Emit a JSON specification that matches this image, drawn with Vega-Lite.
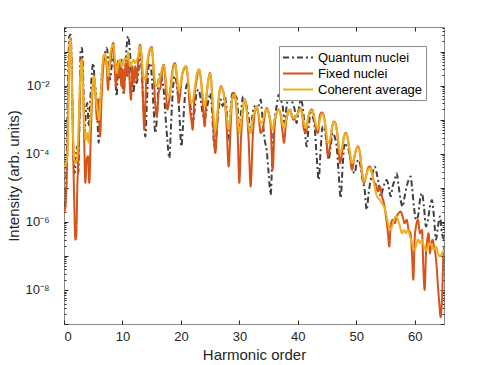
{
"$schema":"https://vega.github.io/schema/vega-lite/v6.json",
"autosize":{"type":"none"},
"width":380,"height":297,
"padding":{"left":64,"top":27,"right":47,"bottom":41},
"background":"white",
"config":{"font":"Liberation Sans","view":{"stroke":"#8a8a8a","strokeWidth":1},"axis":{"grid":false,"labelColor":"#262626","titleColor":"#262626","tickColor":"#262626","labelFont":"Liberation Sans","titleFont":"Liberation Sans","labelFontSize":13,"titleFontSize":15,"titleFontWeight":"normal"}},
"data":{"values":[
{"s":"Q","h":0,"v":2.8e-6},{"s":"Q","h":0.29,"v":4.4e-6},{"s":"Q","h":0.63,"v":0.0039},{"s":"Q","h":0.91,"v":0.28},{"s":"Q","h":1.14,"v":0.32},{"s":"Q","h":1.37,"v":0.012},{"s":"Q","h":1.6,"v":1.3e-4},{"s":"Q","h":1.82,"v":2.7e-5},{"s":"Q","h":2.05,"v":8.4e-5},{"s":"Q","h":2.22,"v":1.64e-4},{"s":"Q","h":2.45,"v":2.7e-5},{"s":"Q","h":2.62,"v":6.4e-4},{"s":"Q","h":2.85,"v":0.115},{"s":"Q","h":3.08,"v":0.128},{"s":"Q","h":3.31,"v":0.012},{"s":"Q","h":3.53,"v":4.1e-4},{"s":"Q","h":3.76,"v":0.002},{"s":"Q","h":3.99,"v":0.0031},{"s":"Q","h":4.22,"v":6.4e-4},{"s":"Q","h":4.45,"v":0.0025},{"s":"Q","h":4.73,"v":0.019},{"s":"Q","h":5.02,"v":0.046},{"s":"Q","h":5.25,"v":0.012},{"s":"Q","h":5.47,"v":0.0061},{"s":"Q","h":5.7,"v":0.00125},{"s":"Q","h":5.93,"v":2.1e-4},{"s":"Q","h":6.16,"v":0.002},{"s":"Q","h":6.44,"v":0.019},{"s":"Q","h":6.73,"v":0.058},{"s":"Q","h":7.01,"v":0.091},{"s":"Q","h":7.3,"v":0.128},{"s":"Q","h":7.58,"v":0.058},{"s":"Q","h":7.87,"v":0.015},{"s":"Q","h":8.15,"v":0.037},{"s":"Q","h":8.44,"v":0.073},{"s":"Q","h":8.72,"v":0.0236},{"s":"Q","h":9.01,"v":0.0049},{"s":"Q","h":9.29,"v":0.058},{"s":"Q","h":9.58,"v":0.015},{"s":"Q","h":9.86,"v":0.058},{"s":"Q","h":10.15,"v":0.0061},{"s":"Q","h":10.43,"v":0.019},{"s":"Q","h":10.72,"v":0.144},{"s":"Q","h":11.0,"v":0.28},{"s":"Q","h":11.29,"v":0.091},{"s":"Q","h":11.57,"v":0.019},{"s":"Q","h":11.86,"v":0.0061},{"s":"Q","h":12.14,"v":0.015},{"s":"Q","h":12.43,"v":0.012},{"s":"Q","h":12.71,"v":0.0236},{"s":"Q","h":13.0,"v":0.091},{"s":"Q","h":13.28,"v":0.03},{"s":"Q","h":13.57,"v":0.0025},{"s":"Q","h":13.91,"v":3.2e-4},{"s":"Q","h":14.2,"v":0.0039},{"s":"Q","h":14.48,"v":0.037},{"s":"Q","h":14.77,"v":0.046},{"s":"Q","h":15.05,"v":0.015},{"s":"Q","h":15.34,"v":0.002},{"s":"Q","h":15.62,"v":4.1e-4},{"s":"Q","h":15.91,"v":0.00125},{"s":"Q","h":16.19,"v":0.015},{"s":"Q","h":16.48,"v":0.0236},{"s":"Q","h":16.76,"v":0.015},{"s":"Q","h":17.05,"v":0.0076},{"s":"Q","h":17.33,"v":0.00157},{"s":"Q","h":17.67,"v":2.6e-4},{"s":"Q","h":18.02,"v":7.5e-5},{"s":"Q","h":18.3,"v":6.4e-4},{"s":"Q","h":18.59,"v":0.0061},{"s":"Q","h":18.87,"v":0.019},{"s":"Q","h":19.16,"v":0.015},{"s":"Q","h":19.44,"v":0.0061},{"s":"Q","h":19.73,"v":0.00157},{"s":"Q","h":20.07,"v":1.64e-4},{"s":"Q","h":20.35,"v":6.4e-4},{"s":"Q","h":20.64,"v":0.0039},{"s":"Q","h":20.92,"v":0.0096},{"s":"Q","h":21.21,"v":0.012},{"s":"Q","h":21.49,"v":0.0039},{"s":"Q","h":21.78,"v":0.00157},{"s":"Q","h":22.06,"v":8e-4},{"s":"Q","h":22.35,"v":0.002},{"s":"Q","h":22.69,"v":0.0061},{"s":"Q","h":23.03,"v":0.0076},{"s":"Q","h":23.38,"v":0.0039},{"s":"Q","h":23.72,"v":0.00157},{"s":"Q","h":24.06,"v":0.001},{"s":"Q","h":24.4,"v":0.002},{"s":"Q","h":24.74,"v":0.0039},{"s":"Q","h":25.03,"v":0.0061},{"s":"Q","h":25.31,"v":0.002},{"s":"Q","h":25.6,"v":2.6e-4},{"s":"Q","h":25.88,"v":1.3e-4},{"s":"Q","h":26.17,"v":6.4e-4},{"s":"Q","h":26.51,"v":0.0025},{"s":"Q","h":26.8,"v":0.0039},{"s":"Q","h":27.14,"v":0.0025},{"s":"Q","h":27.48,"v":0.0049},{"s":"Q","h":27.82,"v":0.002},{"s":"Q","h":28.16,"v":2.6e-4},{"s":"Q","h":28.51,"v":0.002},{"s":"Q","h":28.79,"v":0.0061},{"s":"Q","h":29.08,"v":0.0039},{"s":"Q","h":29.42,"v":0.0049},{"s":"Q","h":29.7,"v":0.0025},{"s":"Q","h":29.99,"v":4.1e-4},{"s":"Q","h":30.33,"v":0.002},{"s":"Q","h":30.62,"v":0.0049},{"s":"Q","h":30.9,"v":0.0039},{"s":"Q","h":31.24,"v":0.0025},{"s":"Q","h":31.58,"v":0.00125},{"s":"Q","h":31.93,"v":4.1e-4},{"s":"Q","h":32.27,"v":0.00157},{"s":"Q","h":32.61,"v":0.0025},{"s":"Q","h":32.95,"v":0.002},{"s":"Q","h":33.3,"v":0.0025},{"s":"Q","h":33.64,"v":0.0039},{"s":"Q","h":33.98,"v":0.001},{"s":"Q","h":34.32,"v":2.6e-4},{"s":"Q","h":34.66,"v":1.3e-4},{"s":"Q","h":35.01,"v":2.7e-5},{"s":"Q","h":35.35,"v":6.2e-6},{"s":"Q","h":35.69,"v":1.64e-4},{"s":"Q","h":36.03,"v":0.001},{"s":"Q","h":36.37,"v":0.0025},{"s":"Q","h":36.72,"v":0.0054},{"s":"Q","h":37.06,"v":0.0039},{"s":"Q","h":37.4,"v":0.0025},{"s":"Q","h":37.74,"v":8e-4},{"s":"Q","h":38.08,"v":0.0025},{"s":"Q","h":38.43,"v":0.0049},{"s":"Q","h":38.77,"v":0.0039},{"s":"Q","h":39.11,"v":0.0031},{"s":"Q","h":39.45,"v":0.002},{"s":"Q","h":39.79,"v":8e-4},{"s":"Q","h":40.14,"v":0.002},{"s":"Q","h":40.48,"v":0.0039},{"s":"Q","h":40.82,"v":0.0025},{"s":"Q","h":41.16,"v":6.4e-4},{"s":"Q","h":41.5,"v":1.64e-4},{"s":"Q","h":41.85,"v":6.4e-4},{"s":"Q","h":42.19,"v":0.00157},{"s":"Q","h":42.53,"v":0.00125},{"s":"Q","h":42.87,"v":6.4e-4},{"s":"Q","h":43.22,"v":8.4e-5},{"s":"Q","h":43.56,"v":1.7e-5},{"s":"Q","h":43.9,"v":1.3e-4},{"s":"Q","h":44.24,"v":6.4e-4},{"s":"Q","h":44.58,"v":5.1e-4},{"s":"Q","h":44.93,"v":2.1e-4},{"s":"Q","h":45.27,"v":6.7e-5},{"s":"Q","h":45.61,"v":1.64e-4},{"s":"Q","h":45.95,"v":4.1e-4},{"s":"Q","h":46.29,"v":3.2e-4},{"s":"Q","h":46.64,"v":1.64e-4},{"s":"Q","h":46.98,"v":2.7e-5},{"s":"Q","h":47.32,"v":5e-6},{"s":"Q","h":47.66,"v":4.2e-5},{"s":"Q","h":48.0,"v":2.1e-4},{"s":"Q","h":48.35,"v":1.64e-4},{"s":"Q","h":48.69,"v":1.3e-4},{"s":"Q","h":49.03,"v":6.7e-5},{"s":"Q","h":49.37,"v":3.4e-5},{"s":"Q","h":49.72,"v":2.7e-5},{"s":"Q","h":50.06,"v":5.3e-5},{"s":"Q","h":50.4,"v":6.7e-5},{"s":"Q","h":50.74,"v":4.2e-5},{"s":"Q","h":51.08,"v":1.7e-5},{"s":"Q","h":51.43,"v":8.7e-6},{"s":"Q","h":51.77,"v":2.25e-6},{"s":"Q","h":52.11,"v":7e-6},{"s":"Q","h":52.45,"v":1.7e-5},{"s":"Q","h":52.79,"v":2.7e-5},{"s":"Q","h":53.14,"v":4.2e-5},{"s":"Q","h":53.48,"v":2.7e-5},{"s":"Q","h":53.82,"v":1.37e-5},{"s":"Q","h":54.16,"v":5.6e-6},{"s":"Q","h":54.5,"v":8.7e-6},{"s":"Q","h":54.85,"v":1.37e-5},{"s":"Q","h":55.19,"v":1.7e-5},{"s":"Q","h":55.53,"v":1.1e-5},{"s":"Q","h":55.87,"v":5.6e-6},{"s":"Q","h":56.21,"v":1.1e-5},{"s":"Q","h":56.56,"v":1.7e-5},{"s":"Q","h":56.9,"v":2.7e-5},{"s":"Q","h":57.24,"v":1.1e-5},{"s":"Q","h":57.58,"v":4.4e-6},{"s":"Q","h":57.92,"v":2.8e-6},{"s":"Q","h":58.27,"v":5.6e-6},{"s":"Q","h":58.61,"v":1.1e-5},{"s":"Q","h":58.95,"v":1.7e-5},{"s":"Q","h":59.29,"v":2.15e-5},{"s":"Q","h":59.52,"v":1.1e-5},{"s":"Q","h":59.86,"v":2.8e-6},{"s":"Q","h":60.21,"v":1.15e-6},{"s":"Q","h":60.55,"v":1.44e-6},{"s":"Q","h":60.89,"v":4.4e-6},{"s":"Q","h":61.23,"v":7e-6},{"s":"Q","h":61.57,"v":2.8e-6},{"s":"Q","h":61.92,"v":7.3e-7},{"s":"Q","h":62.26,"v":1.15e-6},{"s":"Q","h":62.6,"v":2.8e-6},{"s":"Q","h":62.94,"v":4.4e-6},{"s":"Q","h":63.28,"v":1.44e-6},{"s":"Q","h":63.63,"v":3e-7},{"s":"Q","h":63.97,"v":7.3e-7},{"s":"Q","h":64.31,"v":1.44e-6},{"s":"Q","h":64.65,"v":4.6e-7},{"s":"Q","h":65.0,"v":3e-7},
{"s":"F","h":0,"v":1.8e-6},{"s":"F","h":0.29,"v":3.5e-6},{"s":"F","h":0.63,"v":4.1e-4},{"s":"F","h":0.91,"v":0.115},{"s":"F","h":1.08,"v":0.25},{"s":"F","h":1.31,"v":0.037},{"s":"F","h":1.54,"v":2.1e-4},{"s":"F","h":1.77,"v":2.8e-6},{"s":"F","h":1.94,"v":3e-7},{"s":"F","h":2.11,"v":4.6e-7},{"s":"F","h":2.28,"v":1.1e-5},{"s":"F","h":2.51,"v":1.3e-4},{"s":"F","h":2.74,"v":0.0061},{"s":"F","h":3.02,"v":0.065},{"s":"F","h":3.25,"v":0.012},{"s":"F","h":3.48,"v":1.6e-4},{"s":"F","h":3.65,"v":1.4e-5},{"s":"F","h":3.88,"v":6.7e-5},{"s":"F","h":4.1,"v":8.4e-5},{"s":"F","h":4.33,"v":1.4e-5},{"s":"F","h":4.56,"v":2.6e-4},{"s":"F","h":4.85,"v":0.0061},{"s":"F","h":5.13,"v":0.019},{"s":"F","h":5.42,"v":0.0039},{"s":"F","h":5.64,"v":0.001},{"s":"F","h":5.87,"v":0.0039},{"s":"F","h":6.16,"v":3.2e-4},{"s":"F","h":6.44,"v":0.0049},{"s":"F","h":6.73,"v":0.037},{"s":"F","h":7.01,"v":0.082},{"s":"F","h":7.3,"v":0.037},{"s":"F","h":7.53,"v":0.0076},{"s":"F","h":7.75,"v":0.037},{"s":"F","h":8.04,"v":0.058},{"s":"F","h":8.27,"v":0.144},{"s":"F","h":8.44,"v":0.18},{"s":"F","h":8.67,"v":0.037},{"s":"F","h":8.89,"v":0.0096},{"s":"F","h":9.12,"v":0.046},{"s":"F","h":9.35,"v":0.019},{"s":"F","h":9.58,"v":0.058},{"s":"F","h":9.81,"v":0.0096},{"s":"F","h":10.03,"v":0.03},{"s":"F","h":10.26,"v":0.0061},{"s":"F","h":10.55,"v":0.046},{"s":"F","h":10.78,"v":0.019},{"s":"F","h":11.0,"v":0.091},{"s":"F","h":11.23,"v":0.012},{"s":"F","h":11.46,"v":0.0039},{"s":"F","h":11.69,"v":0.037},{"s":"F","h":11.92,"v":0.012},{"s":"F","h":12.2,"v":0.037},{"s":"F","h":12.43,"v":0.015},{"s":"F","h":12.71,"v":0.058},{"s":"F","h":13.0,"v":0.16},{"s":"F","h":13.28,"v":0.058},{"s":"F","h":13.51,"v":0.0039},{"s":"F","h":13.74,"v":5.1e-4},{"s":"F","h":14.02,"v":0.0096},{"s":"F","h":14.31,"v":0.046},{"s":"F","h":14.71,"v":0.115},{"s":"F","h":14.99,"v":0.138},{"s":"F","h":15.28,"v":0.037},{"s":"F","h":15.56,"v":0.0039},{"s":"F","h":15.85,"v":0.00125},{"s":"F","h":16.19,"v":0.0061},{"s":"F","h":16.53,"v":0.0096},{"s":"F","h":16.82,"v":0.03},{"s":"F","h":17.05,"v":0.0415},{"s":"F","h":17.33,"v":0.015},{"s":"F","h":17.67,"v":0.002},{"s":"F","h":18.02,"v":0.0039},{"s":"F","h":18.36,"v":0.015},{"s":"F","h":18.7,"v":0.037},{"s":"F","h":18.99,"v":0.046},{"s":"F","h":19.33,"v":0.015},{"s":"F","h":19.61,"v":0.0031},{"s":"F","h":19.9,"v":0.0061},{"s":"F","h":20.18,"v":0.019},{"s":"F","h":20.52,"v":0.03},{"s":"F","h":20.87,"v":0.037},{"s":"F","h":21.15,"v":0.019},{"s":"F","h":21.49,"v":0.0025},{"s":"F","h":21.78,"v":0.001},{"s":"F","h":22.01,"v":5.1e-4},{"s":"F","h":22.29,"v":0.0039},{"s":"F","h":22.69,"v":0.015},{"s":"F","h":23.09,"v":0.03},{"s":"F","h":23.43,"v":0.015},{"s":"F","h":23.77,"v":0.0025},{"s":"F","h":24.06,"v":6.4e-4},{"s":"F","h":24.34,"v":0.0039},{"s":"F","h":24.69,"v":0.015},{"s":"F","h":24.97,"v":0.0236},{"s":"F","h":25.31,"v":0.0061},{"s":"F","h":25.6,"v":4.1e-4},{"s":"F","h":25.88,"v":1.05e-4},{"s":"F","h":26.17,"v":6.4e-4},{"s":"F","h":26.51,"v":0.0049},{"s":"F","h":26.85,"v":0.0096},{"s":"F","h":27.14,"v":0.0076},{"s":"F","h":27.48,"v":0.0039},{"s":"F","h":27.82,"v":6.4e-4},{"s":"F","h":28.16,"v":4.2e-5},{"s":"F","h":28.51,"v":6.4e-4},{"s":"F","h":28.79,"v":0.0049},{"s":"F","h":29.08,"v":0.0061},{"s":"F","h":29.36,"v":0.0039},{"s":"F","h":29.7,"v":4.1e-4},{"s":"F","h":29.99,"v":1.4e-5},{"s":"F","h":30.27,"v":2.6e-4},{"s":"F","h":30.62,"v":0.002},{"s":"F","h":30.9,"v":0.0039},{"s":"F","h":31.24,"v":0.002},{"s":"F","h":31.58,"v":2.6e-4},{"s":"F","h":31.93,"v":1.1e-5},{"s":"F","h":32.27,"v":2.6e-4},{"s":"F","h":32.61,"v":0.00157},{"s":"F","h":32.95,"v":0.0025},{"s":"F","h":33.3,"v":0.00125},{"s":"F","h":33.64,"v":4.1e-4},{"s":"F","h":33.98,"v":5.1e-4},{"s":"F","h":34.32,"v":0.00125},{"s":"F","h":34.66,"v":0.0022},{"s":"F","h":35.01,"v":0.00157},{"s":"F","h":35.35,"v":6.4e-4},{"s":"F","h":35.69,"v":3.4e-5},{"s":"F","h":36.03,"v":6.4e-4},{"s":"F","h":36.37,"v":0.00157},{"s":"F","h":36.72,"v":0.002},{"s":"F","h":37.06,"v":0.0014},{"s":"F","h":37.4,"v":4.1e-4},{"s":"F","h":37.63,"v":2.1e-4},{"s":"F","h":37.97,"v":8e-4},{"s":"F","h":38.31,"v":0.00157},{"s":"F","h":38.65,"v":0.002},{"s":"F","h":39.0,"v":0.00125},{"s":"F","h":39.34,"v":0.001},{"s":"F","h":39.68,"v":0.00125},{"s":"F","h":40.02,"v":0.00157},{"s":"F","h":40.36,"v":0.0022},{"s":"F","h":40.71,"v":0.00157},{"s":"F","h":41.05,"v":5.1e-4},{"s":"F","h":41.39,"v":4.1e-4},{"s":"F","h":41.73,"v":0.001},{"s":"F","h":42.08,"v":0.00176},{"s":"F","h":42.42,"v":0.002},{"s":"F","h":42.76,"v":0.00125},{"s":"F","h":43.1,"v":5.1e-4},{"s":"F","h":43.44,"v":4.1e-4},{"s":"F","h":43.79,"v":0.0014},{"s":"F","h":44.13,"v":0.00164},{"s":"F","h":44.47,"v":0.00125},{"s":"F","h":44.81,"v":4.1e-4},{"s":"F","h":45.15,"v":8.4e-5},{"s":"F","h":45.5,"v":1.64e-4},{"s":"F","h":45.84,"v":5.7e-4},{"s":"F","h":46.18,"v":8.9e-4},{"s":"F","h":46.52,"v":7.1e-4},{"s":"F","h":46.86,"v":2.6e-4},{"s":"F","h":47.21,"v":5.3e-5},{"s":"F","h":47.55,"v":1.05e-4},{"s":"F","h":47.89,"v":3.2e-4},{"s":"F","h":48.23,"v":4.1e-4},{"s":"F","h":48.57,"v":2.6e-4},{"s":"F","h":48.92,"v":8.4e-5},{"s":"F","h":49.26,"v":3.4e-5},{"s":"F","h":49.6,"v":6.7e-5},{"s":"F","h":49.94,"v":1.3e-4},{"s":"F","h":50.29,"v":1.64e-4},{"s":"F","h":50.63,"v":1.05e-4},{"s":"F","h":50.97,"v":2.7e-5},{"s":"F","h":51.31,"v":1.37e-5},{"s":"F","h":51.65,"v":2.15e-5},{"s":"F","h":52.0,"v":3.8e-5},{"s":"F","h":52.34,"v":4.2e-5},{"s":"F","h":52.68,"v":2.7e-5},{"s":"F","h":53.02,"v":1.53e-5},{"s":"F","h":53.36,"v":1.22e-5},{"s":"F","h":53.71,"v":7.8e-6},{"s":"F","h":54.05,"v":1.09e-5},{"s":"F","h":54.39,"v":5.6e-6},{"s":"F","h":54.73,"v":3.5e-6},{"s":"F","h":55.07,"v":1.44e-6},{"s":"F","h":55.42,"v":4.6e-7},{"s":"F","h":55.64,"v":1.9e-7},{"s":"F","h":55.87,"v":7.3e-7},{"s":"F","h":56.21,"v":1.15e-6},{"s":"F","h":56.56,"v":9.1e-7},{"s":"F","h":56.9,"v":1.44e-6},{"s":"F","h":57.24,"v":1.8e-6},{"s":"F","h":57.58,"v":2e-6},{"s":"F","h":57.92,"v":1.44e-6},{"s":"F","h":58.27,"v":9.1e-7},{"s":"F","h":58.61,"v":1.15e-6},{"s":"F","h":58.95,"v":5.8e-7},{"s":"F","h":59.29,"v":4.6e-7},{"s":"F","h":59.52,"v":1.2e-7},{"s":"F","h":59.75,"v":2e-8},{"s":"F","h":59.98,"v":3e-7},{"s":"F","h":60.21,"v":7.3e-7},{"s":"F","h":60.55,"v":1.15e-6},{"s":"F","h":60.89,"v":4.6e-7},{"s":"F","h":61.23,"v":5.8e-7},{"s":"F","h":61.46,"v":4.9e-8},{"s":"F","h":61.69,"v":1e-8},{"s":"F","h":61.92,"v":1.2e-7},{"s":"F","h":62.14,"v":3e-7},{"s":"F","h":62.37,"v":4.6e-7},{"s":"F","h":62.6,"v":1.2e-7},{"s":"F","h":62.83,"v":2.4e-7},{"s":"F","h":63.05,"v":3e-7},{"s":"F","h":63.28,"v":1.9e-7},{"s":"F","h":63.51,"v":1.2e-7},{"s":"F","h":63.74,"v":4.9e-8},{"s":"F","h":63.97,"v":1.25e-8},{"s":"F","h":64.2,"v":4.1e-9},{"s":"F","h":64.42,"v":1.6e-9},{"s":"F","h":64.65,"v":5.1e-9},{"s":"F","h":64.88,"v":7.6e-8},{"s":"F","h":65.0,"v":1.9e-7},
{"s":"C","h":0,"v":4.2e-5},{"s":"C","h":0.29,"v":4.75e-5},{"s":"C","h":0.63,"v":1.05e-4},{"s":"C","h":0.86,"v":0.037},{"s":"C","h":1.08,"v":0.25},{"s":"C","h":1.31,"v":0.0236},{"s":"C","h":1.54,"v":4.1e-4},{"s":"C","h":1.77,"v":6.7e-5},{"s":"C","h":2.0,"v":5.3e-5},{"s":"C","h":2.22,"v":6.7e-5},{"s":"C","h":2.45,"v":4.1e-4},{"s":"C","h":2.74,"v":0.012},{"s":"C","h":3.02,"v":0.058},{"s":"C","h":3.25,"v":0.0096},{"s":"C","h":3.48,"v":6.4e-4},{"s":"C","h":3.71,"v":2.6e-4},{"s":"C","h":3.99,"v":4.1e-4},{"s":"C","h":4.22,"v":2.1e-4},{"s":"C","h":4.45,"v":6.4e-4},{"s":"C","h":4.79,"v":0.0061},{"s":"C","h":5.13,"v":0.019},{"s":"C","h":5.47,"v":0.0039},{"s":"C","h":5.7,"v":0.002},{"s":"C","h":5.99,"v":0.001},{"s":"C","h":6.27,"v":0.0049},{"s":"C","h":6.56,"v":0.037},{"s":"C","h":6.84,"v":0.082},{"s":"C","h":7.07,"v":0.073},{"s":"C","h":7.3,"v":0.046},{"s":"C","h":7.58,"v":0.019},{"s":"C","h":7.87,"v":0.073},{"s":"C","h":8.21,"v":0.144},{"s":"C","h":8.44,"v":0.16},{"s":"C","h":8.72,"v":0.058},{"s":"C","h":9.01,"v":0.0236},{"s":"C","h":9.29,"v":0.046},{"s":"C","h":9.58,"v":0.058},{"s":"C","h":9.86,"v":0.037},{"s":"C","h":10.15,"v":0.046},{"s":"C","h":10.43,"v":0.065},{"s":"C","h":10.72,"v":0.058},{"s":"C","h":11.0,"v":0.091},{"s":"C","h":11.29,"v":0.037},{"s":"C","h":11.57,"v":0.046},{"s":"C","h":11.86,"v":0.058},{"s":"C","h":12.14,"v":0.046},{"s":"C","h":12.43,"v":0.058},{"s":"C","h":12.71,"v":0.073},{"s":"C","h":13.0,"v":0.144},{"s":"C","h":13.28,"v":0.073},{"s":"C","h":13.57,"v":0.019},{"s":"C","h":13.85,"v":0.015},{"s":"C","h":14.14,"v":0.037},{"s":"C","h":14.48,"v":0.091},{"s":"C","h":14.77,"v":0.128},{"s":"C","h":15.05,"v":0.115},{"s":"C","h":15.34,"v":0.037},{"s":"C","h":15.62,"v":0.012},{"s":"C","h":15.91,"v":0.0096},{"s":"C","h":16.25,"v":0.015},{"s":"C","h":16.59,"v":0.0236},{"s":"C","h":16.88,"v":0.037},{"s":"C","h":17.1,"v":0.039},{"s":"C","h":17.39,"v":0.019},{"s":"C","h":17.67,"v":0.0061},{"s":"C","h":18.02,"v":0.0049},{"s":"C","h":18.36,"v":0.012},{"s":"C","h":18.7,"v":0.03},{"s":"C","h":18.99,"v":0.0415},{"s":"C","h":19.33,"v":0.019},{"s":"C","h":19.61,"v":0.0076},{"s":"C","h":19.9,"v":0.0096},{"s":"C","h":20.24,"v":0.0236},{"s":"C","h":20.52,"v":0.033},{"s":"C","h":20.87,"v":0.037},{"s":"C","h":21.15,"v":0.021},{"s":"C","h":21.49,"v":0.0061},{"s":"C","h":21.78,"v":0.0031},{"s":"C","h":22.06,"v":0.0039},{"s":"C","h":22.41,"v":0.0096},{"s":"C","h":22.75,"v":0.0236},{"s":"C","h":23.09,"v":0.03},{"s":"C","h":23.43,"v":0.015},{"s":"C","h":23.77,"v":0.0049},{"s":"C","h":24.06,"v":0.0025},{"s":"C","h":24.4,"v":0.0061},{"s":"C","h":24.69,"v":0.015},{"s":"C","h":24.97,"v":0.0225},{"s":"C","h":25.31,"v":0.0076},{"s":"C","h":25.6,"v":0.00125},{"s":"C","h":25.88,"v":5.1e-4},{"s":"C","h":26.23,"v":0.00157},{"s":"C","h":26.51,"v":0.0049},{"s":"C","h":26.85,"v":0.0091},{"s":"C","h":27.14,"v":0.0076},{"s":"C","h":27.48,"v":0.0039},{"s":"C","h":27.82,"v":0.00125},{"s":"C","h":28.16,"v":5.1e-4},{"s":"C","h":28.51,"v":0.00157},{"s":"C","h":28.79,"v":0.0043},{"s":"C","h":29.08,"v":0.0054},{"s":"C","h":29.42,"v":0.0035},{"s":"C","h":29.7,"v":0.001},{"s":"C","h":29.99,"v":4.1e-4},{"s":"C","h":30.33,"v":0.001},{"s":"C","h":30.62,"v":0.0025},{"s":"C","h":30.96,"v":0.0039},{"s":"C","h":31.24,"v":0.002},{"s":"C","h":31.58,"v":6.4e-4},{"s":"C","h":31.93,"v":4.1e-4},{"s":"C","h":32.27,"v":0.001},{"s":"C","h":32.61,"v":0.00176},{"s":"C","h":32.95,"v":0.0025},{"s":"C","h":33.3,"v":0.0014},{"s":"C","h":33.64,"v":8e-4},{"s":"C","h":33.98,"v":8.9e-4},{"s":"C","h":34.32,"v":0.00157},{"s":"C","h":34.66,"v":0.00206},{"s":"C","h":35.01,"v":0.00157},{"s":"C","h":35.35,"v":8.9e-4},{"s":"C","h":35.69,"v":5.1e-4},{"s":"C","h":36.03,"v":0.001},{"s":"C","h":36.37,"v":0.00157},{"s":"C","h":36.72,"v":0.002},{"s":"C","h":37.06,"v":0.0014},{"s":"C","h":37.4,"v":7.1e-4},{"s":"C","h":37.69,"v":5.7e-4},{"s":"C","h":37.97,"v":0.001},{"s":"C","h":38.31,"v":0.00157},{"s":"C","h":38.65,"v":0.002},{"s":"C","h":39.0,"v":0.0014},{"s":"C","h":39.34,"v":0.00112},{"s":"C","h":39.68,"v":0.00125},{"s":"C","h":40.02,"v":0.00157},{"s":"C","h":40.36,"v":0.00206},{"s":"C","h":40.71,"v":0.00157},{"s":"C","h":41.05,"v":8e-4},{"s":"C","h":41.39,"v":5.7e-4},{"s":"C","h":41.73,"v":0.00112},{"s":"C","h":42.08,"v":0.00176},{"s":"C","h":42.42,"v":0.0019},{"s":"C","h":42.76,"v":0.00125},{"s":"C","h":43.1,"v":7.1e-4},{"s":"C","h":43.44,"v":5.7e-4},{"s":"C","h":43.79,"v":0.001},{"s":"C","h":44.13,"v":0.0015},{"s":"C","h":44.47,"v":0.0012},{"s":"C","h":44.81,"v":5.1e-4},{"s":"C","h":45.15,"v":2.1e-4},{"s":"C","h":45.5,"v":2.6e-4},{"s":"C","h":45.84,"v":5.7e-4},{"s":"C","h":46.18,"v":8.5e-4},{"s":"C","h":46.52,"v":6.7e-4},{"s":"C","h":46.86,"v":2.9e-4},{"s":"C","h":47.21,"v":1.05e-4},{"s":"C","h":47.55,"v":1.47e-4},{"s":"C","h":47.89,"v":3.2e-4},{"s":"C","h":48.23,"v":3.9e-4},{"s":"C","h":48.57,"v":2.6e-4},{"s":"C","h":48.92,"v":1.05e-4},{"s":"C","h":49.26,"v":5.3e-5},{"s":"C","h":49.6,"v":7.5e-5},{"s":"C","h":49.94,"v":1.3e-4},{"s":"C","h":50.29,"v":1.57e-4},{"s":"C","h":50.63,"v":1.05e-4},{"s":"C","h":50.97,"v":3.4e-5},{"s":"C","h":51.31,"v":1.53e-5},{"s":"C","h":51.65,"v":2.15e-5},{"s":"C","h":52.0,"v":3.4e-5},{"s":"C","h":52.34,"v":3.8e-5},{"s":"C","h":52.68,"v":2.7e-5},{"s":"C","h":53.02,"v":1.37e-5},{"s":"C","h":53.36,"v":7e-6},{"s":"C","h":53.71,"v":5e-6},{"s":"C","h":54.05,"v":4.4e-6},{"s":"C","h":54.39,"v":3.5e-6},{"s":"C","h":54.73,"v":2.8e-6},{"s":"C","h":55.07,"v":1.8e-6},{"s":"C","h":55.42,"v":9.1e-7},{"s":"C","h":55.76,"v":5.8e-7},{"s":"C","h":56.1,"v":7.3e-7},{"s":"C","h":56.44,"v":1.15e-6},{"s":"C","h":56.78,"v":1.44e-6},{"s":"C","h":57.13,"v":1.15e-6},{"s":"C","h":57.47,"v":7.3e-7},{"s":"C","h":57.81,"v":4.6e-7},{"s":"C","h":58.15,"v":5.8e-7},{"s":"C","h":58.49,"v":4.6e-7},{"s":"C","h":58.84,"v":5.8e-7},{"s":"C","h":59.18,"v":3.7e-7},{"s":"C","h":59.52,"v":2.4e-7},{"s":"C","h":59.86,"v":1.5e-7},{"s":"C","h":60.21,"v":1.9e-7},{"s":"C","h":60.55,"v":3e-7},{"s":"C","h":60.89,"v":2.4e-7},{"s":"C","h":61.23,"v":3e-7},{"s":"C","h":61.57,"v":1.9e-7},{"s":"C","h":61.92,"v":1.5e-7},{"s":"C","h":62.26,"v":1.9e-7},{"s":"C","h":62.6,"v":2.4e-7},{"s":"C","h":62.94,"v":1.9e-7},{"s":"C","h":63.28,"v":1.5e-7},{"s":"C","h":63.63,"v":1.9e-7},{"s":"C","h":63.97,"v":1.2e-7},{"s":"C","h":64.31,"v":9.6e-8},{"s":"C","h":64.65,"v":1.2e-7},{"s":"C","h":65.0,"v":1.5e-7}
]},
"encoding":{
"color":{"field":"s","type":"nominal","scale":{"domain":["Q","F","C"],"range":["#404040","#D95319","#EDB120"]},"legend":{"title":null,"orient":"none","legendX":215,"legendY":19,"direction":"vertical","symbolType":"M-1,0H3","symbolSize":225,"labelFontSize":13,"labelFont":"Liberation Sans","labelColor":"#000000","labelOffset":19,"padding":3,"rowPadding":0,"strokeColor":"#8a8a8a","fillColor":"white","cornerRadius":0,"labelExpr":"datum.label == 'Q' ? 'Quantum nuclei' : datum.label == 'F' ? 'Fixed nuclei' : 'Coherent average'"}},
"strokeDash":{"field":"s","type":"nominal","scale":{"domain":["Q","F","C"],"range":[[6,3,2,3],[1,0],[1,0]]}},
"strokeWidth":{"field":"s","type":"nominal","scale":{"domain":["Q","F","C"],"range":[2,2,1.2]}}
},
"layer":[
{"transform":[{"filter":"datum.s == 'Q'"}],"mark":{"type":"line","clip":true,"interpolate":"monotone"},
"encoding":{
"x":{"field":"h","type":"quantitative","scale":{"domain":[0,65],"nice":false,"zero":false},"axis":{"orient":"bottom","values":[0,10,20,30,40,50,60],"ticks":false,"domain":false,"labelPadding":6,"title":"Harmonic order","titlePadding":4}},
"y":{"field":"v","type":"quantitative","scale":{"type":"log","domain":[1e-9,0.53],"nice":false},"axis":{"orient":"left","values":[1e-8,1e-6,1e-4,1e-2],"ticks":false,"domain":false,"labelPadding":15,"labelExpr":"datum.value < 5e-8 ? '10⁻⁸' : datum.value < 5e-6 ? '10⁻⁶' : datum.value < 5e-4 ? '10⁻⁴' : '10⁻²'","title":"Intensity (arb. units)","titlePadding":3}}}},
{"transform":[{"filter":"datum.s == 'F'"}],"mark":{"type":"line","clip":true,"interpolate":"monotone"},
"encoding":{
"x":{"field":"h","type":"quantitative","axis":{"orient":"bottom","values":[0,10,20,30,40,50,60],"labels":false,"domain":false,"title":null,"tickSize":4,"offset":-4}},
"y":{"field":"v","type":"quantitative","axis":{"orient":"left","values":[1e-9,1e-8,1e-7,1e-6,1e-5,1e-4,1e-3,1e-2,1e-1],"labels":false,"domain":false,"title":null,"tickSize":4,"offset":-4}}}},
{"transform":[{"filter":"datum.s == 'C'"}],"mark":{"type":"line","clip":true,"interpolate":"monotone"},
"encoding":{
"x":{"field":"h","type":"quantitative","axis":{"orient":"top","values":[0,10,20,30,40,50,60],"labels":false,"domain":false,"title":null,"tickSize":4,"offset":-4}},
"y":{"field":"v","type":"quantitative","axis":{"orient":"right","values":[1e-9,1e-8,1e-7,1e-6,1e-5,1e-4,1e-3,1e-2,1e-1],"labels":false,"domain":false,"title":null,"tickSize":4,"offset":-4}}}},
{"transform":[{"filter":"datum.s == 'C'"}],"mark":{"type":"line","opacity":0,"clip":true},
"encoding":{
"x":{"field":"h","type":"quantitative","axis":null},
"y":{"field":"v","type":"quantitative","axis":{"orient":"left","values":[2e-9,3e-9,4e-9,5e-9,6e-9,7e-9,8e-9,9e-9,2e-8,3e-8,4e-8,5e-8,6e-8,7e-8,8e-8,9e-8,2e-7,3e-7,4e-7,5e-7,6e-7,7e-7,8e-7,9e-7,2e-6,3e-6,4e-6,5e-6,6e-6,7e-6,8e-6,9e-6,2e-5,3e-5,4e-5,5e-5,6e-5,7e-5,8e-5,9e-5,2e-4,3e-4,4e-4,5e-4,6e-4,7e-4,8e-4,9e-4,2e-3,3e-3,4e-3,5e-3,6e-3,7e-3,8e-3,9e-3,2e-2,3e-2,4e-2,5e-2,6e-2,7e-2,8e-2,9e-2,0.2,0.3,0.4,0.5],"labels":false,"domain":false,"title":null,"tickSize":2,"offset":-2}}}},
{"transform":[{"filter":"datum.s == 'C'"}],"mark":{"type":"line","opacity":0,"clip":true},
"encoding":{
"x":{"field":"h","type":"quantitative","axis":null},
"y":{"field":"v","type":"quantitative","axis":{"orient":"right","values":[2e-9,3e-9,4e-9,5e-9,6e-9,7e-9,8e-9,9e-9,2e-8,3e-8,4e-8,5e-8,6e-8,7e-8,8e-8,9e-8,2e-7,3e-7,4e-7,5e-7,6e-7,7e-7,8e-7,9e-7,2e-6,3e-6,4e-6,5e-6,6e-6,7e-6,8e-6,9e-6,2e-5,3e-5,4e-5,5e-5,6e-5,7e-5,8e-5,9e-5,2e-4,3e-4,4e-4,5e-4,6e-4,7e-4,8e-4,9e-4,2e-3,3e-3,4e-3,5e-3,6e-3,7e-3,8e-3,9e-3,2e-2,3e-2,4e-2,5e-2,6e-2,7e-2,8e-2,9e-2,0.2,0.3,0.4,0.5],"labels":false,"domain":false,"title":null,"tickSize":2,"offset":-2}}}}
],
"resolve":{"axis":{"x":"independent","y":"independent"}}
}
